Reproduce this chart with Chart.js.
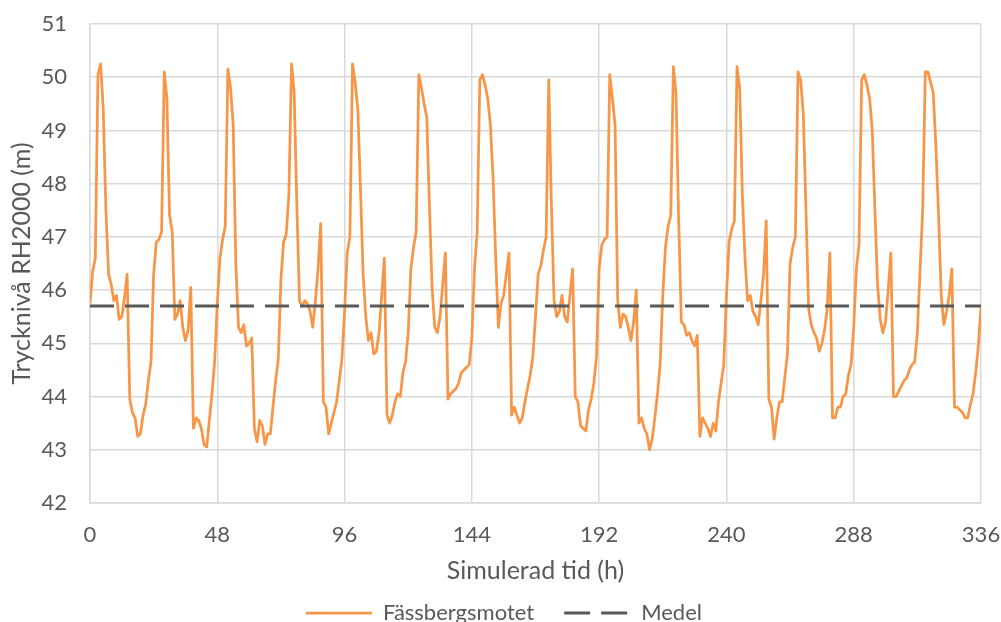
<!DOCTYPE html>
<html>
<head>
<meta charset="utf-8">
<script src="https://cdn.jsdelivr.net/npm/chart.js@4.4.1/dist/chart.umd.min.js"></script>
<style>
html, body { margin: 0; padding: 0; background: #ffffff; }
#wrap { width: 1001px; height: 622px; }
</style>
</head>
<body>
<div id="wrap"><canvas id="c" width="1001" height="622"></canvas></div>
<script>
// ---- data (hourly values) ----
const day00 = [45.75, 46.35, 46.6, 50.05, 50.25, 49.4, 47.5, 46.3, 46.1, 45.8, 45.9, 45.45, 45.5, 45.85, 46.3, 43.95, 43.7, 43.6, 43.25, 43.3, 43.65, 43.85, 44.3, 44.65];
const day01 = [46.3, 46.9, 46.95, 47.1, 50.1, 49.6, 47.4, 47.1, 45.45, 45.55, 45.8, 45.3, 45.05, 45.25, 46.05, 43.4, 43.6, 43.55, 43.4, 43.1, 43.05, 43.55, 44.05, 44.65];
const day02 = [45.75, 46.6, 46.95, 47.2, 50.15, 49.8, 49.1, 46.5, 45.3, 45.2, 45.35, 44.95, 45.0, 45.1, 43.4, 43.15, 43.55, 43.45, 43.1, 43.3, 43.3, 43.8, 44.3, 44.7];
const day03 = [46.2, 46.9, 47.05, 47.8, 50.25, 49.7, 47.6, 45.8, 45.7, 45.8, 45.75, 45.6, 45.3, 45.8, 46.4, 47.25, 43.9, 43.8, 43.3, 43.5, 43.7, 43.9, 44.3, 44.7];
const day04 = [45.6, 46.7, 47.0, 50.25, 49.9, 49.4, 47.9, 46.3, 45.5, 45.05, 45.2, 44.8, 44.85, 45.2, 45.9, 46.6, 43.65, 43.5, 43.65, 43.9, 44.05, 44.0, 44.45, 44.65];
const day05 = [45.2, 46.4, 46.8, 47.1, 50.05, 49.8, 49.5, 49.25, 47.6, 46.05, 45.3, 45.2, 45.5, 46.1, 46.7, 43.95, 44.05, 44.1, 44.15, 44.25, 44.45, 44.5, 44.55, 44.6];
const day06 = [45.1, 46.4, 47.1, 49.95, 50.05, 49.85, 49.6, 49.1, 48.1, 46.6, 45.3, 45.75, 45.9, 46.3, 46.7, 43.65, 43.8, 43.65, 43.5, 43.6, 43.9, 44.15, 44.4, 44.75];
const day07 = [45.5, 46.3, 46.45, 46.75, 47.0, 49.95, 47.6, 45.8, 45.5, 45.6, 45.9, 45.5, 45.4, 45.9, 46.4, 44.0, 43.9, 43.45, 43.4, 43.35, 43.75, 43.95, 44.25, 44.75];
const day08 = [46.4, 46.85, 46.95, 47.0, 50.05, 49.6, 49.1, 45.8, 45.3, 45.55, 45.5, 45.3, 45.05, 45.4, 46.0, 43.5, 43.6, 43.4, 43.3, 43.0, 43.2, 43.6, 44.05, 44.6];
const day09 = [45.9, 46.8, 47.2, 47.4, 50.2, 49.7, 47.3, 45.4, 45.35, 45.15, 45.2, 45.05, 44.95, 45.15, 43.25, 43.6, 43.5, 43.4, 43.25, 43.5, 43.35, 43.9, 44.25, 44.6];
const day10 = [45.9, 46.9, 47.15, 47.3, 50.2, 49.8, 47.8, 46.6, 45.8, 45.9, 45.6, 45.5, 45.35, 45.8, 46.3, 47.3, 43.95, 43.8, 43.2, 43.6, 43.9, 43.9, 44.35, 44.8];
const day11 = [46.5, 46.8, 47.0, 50.1, 49.95, 49.3, 47.5, 45.65, 45.35, 45.2, 45.1, 44.85, 45.0, 45.25, 45.65, 46.7, 43.6, 43.6, 43.8, 43.8, 44.0, 44.05, 44.4, 44.6];
const day12 = [45.3, 46.4, 46.85, 49.95, 50.05, 49.85, 49.6, 49.0, 47.5, 46.1, 45.45, 45.2, 45.4, 46.0, 46.7, 44.0, 44.0, 44.1, 44.2, 44.3, 44.35, 44.5, 44.6, 44.65];
const day13 = [45.2, 46.35, 47.5, 50.1, 50.1, 49.9, 49.7, 48.7, 47.4, 45.9, 45.35, 45.6, 45.9, 46.4, 43.8, 43.8, 43.75, 43.7, 43.6, 43.6, 43.85, 44.05, 44.45, 44.95];
const finalHour = [45.7];

const pressure = [].concat(day00, day01, day02, day03, day04, day05, day06,
                           day07, day08, day09, day10, day11, day12, day13, finalHour);
const hours = pressure.map((_, i) => i);          // simulated time step index (h)
const meanLevel = 45.7;
const meanSpan = [0, 336];
const xTickValues = [0, 48, 96, 144, 192, 240, 288, 336];
const yTickValues = [42, 43, 44, 45, 46, 47, 48, 49, 50, 51];
const seriesNames = ['Fässbergsmotet', 'Medel'];
const xTitle = 'Simulerad tid (h)';
const yTitle = 'Trycknivå RH2000 (m)';

// ---- styling / layout ----
const FONT = 'Lato';
const TXT = '#595959';
const GRID = '#d9d9d9';
const fsTick = 22, fsTitle = 25, fsLegend = 22;
const legendPad = 30;
const legendCenterY = 613;
const plotBottom = 503, plotLeft = 90;
const padLeft = 27, padRight = 20, padTop = 24;
const legendTop = legendCenterY - legendPad - fsLegend / 2;
const legendHeight = 622 - legendTop;
const xAxisHeight = legendTop - plotBottom;
const titleLH = fsTitle * 1.2;
const legendDash = [26, 11];

new Chart(document.getElementById('c'), {
  type: 'line',
  data: {
    labels: hours,
    datasets: [
      {
        label: seriesNames[0],
        data: pressure,
        borderColor: '#F79646',
        backgroundColor: '#F79646',
        borderWidth: 2.75,
        pointRadius: 0,
        tension: 0,
        fill: false,
        borderJoinStyle: 'round',
        order: 1
      },
      {
        label: seriesNames[1],
        data: meanSpan.map(x => ({ x: x, y: meanLevel })),
        borderColor: '#595959',
        backgroundColor: '#595959',
        borderWidth: 3,
        borderDash: [24, 11],
        pointRadius: 0,
        fill: false,
        order: 0
      }
    ]
  },
  options: {
    responsive: false,
    animation: false,
    devicePixelRatio: 1,
    layout: { padding: { left: padLeft, right: padRight, top: padTop, bottom: 0 } },
    plugins: {
      tooltip: { enabled: false },
      legend: {
        position: 'bottom',
        maxHeight: legendHeight,
        labels: {
          usePointStyle: true,
          pointStyle: 'line',
          pointStyleWidth: 66,
          padding: legendPad,
          color: TXT,
          font: { family: FONT, size: fsLegend },
          sort: (a, b) => a.datasetIndex - b.datasetIndex,
          generateLabels: chart => {
            const items = Chart.defaults.plugins.legend.labels.generateLabels(chart);
            items.forEach(it => {
              const ds = chart.data.datasets[it.datasetIndex];
              it.strokeStyle = ds.borderColor;
              it.fillStyle = ds.borderColor;
              it.lineWidth = ds.borderWidth;
              it.lineDash = ds.borderDash ? legendDash : [];
              it.lineCap = 'butt';
              it.pointStyle = 'line';
            });
            return items;
          }
        }
      }
    },
    scales: {
      x: {
        type: 'linear',
        min: 0,
        max: 336,
        afterBuildTicks: s => { s.ticks = xTickValues.map(v => ({ value: v })); },
        afterFit: s => { s.height = xAxisHeight; },
        ticks: {
          color: TXT,
          font: { family: FONT, size: fsTick },
          padding: 0,
          maxRotation: 0,
          autoSkip: false
        },
        grid: { color: GRID, lineWidth: 1.5, drawTicks: true, tickLength: 19, tickColor: 'rgba(0,0,0,0)' },
        border: { display: true, color: GRID, width: 1.5 },
        title: {
          display: true,
          text: xTitle,
          color: TXT,
          font: { family: FONT, size: fsTitle },
          padding: { top: 0, bottom: legendTop - titleLH / 2 - 571 }
        }
      },
      y: {
        type: 'linear',
        min: 42,
        max: 51,
        afterBuildTicks: s => { s.ticks = yTickValues.map(v => ({ value: v })); },
        afterFit: s => { s.width = plotLeft - padLeft; },
        ticks: {
          color: TXT,
          font: { family: FONT, size: fsTick },
          padding: 0
        },
        grid: { color: GRID, lineWidth: 1.5, drawTicks: true, tickLength: 23, tickColor: 'rgba(0,0,0,0)' },
        border: { display: true, color: GRID, width: 1.5 },
        title: {
          display: true,
          text: yTitle,
          color: TXT,
          font: { family: FONT, size: fsTitle },
          padding: { top: 22 - padLeft - titleLH / 2, bottom: 0 }
        }
      }
    }
  }
});
</script>
</body>
</html>
